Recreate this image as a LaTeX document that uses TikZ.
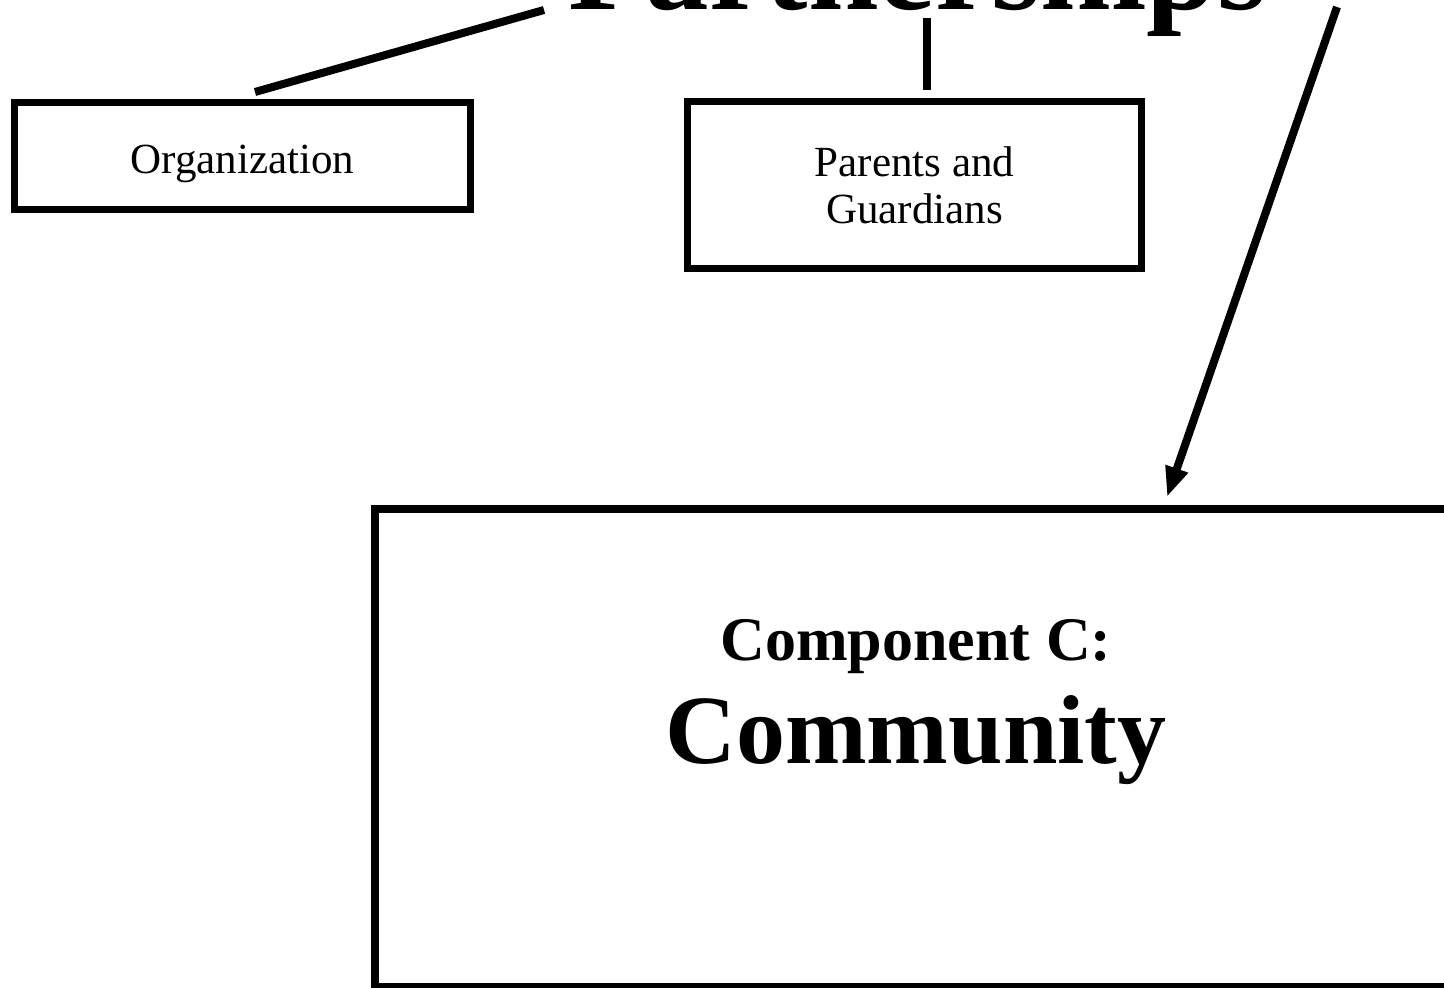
\documentclass[tikz,border=0pt]{standalone}
\usepackage{fontspec}
\setmainfont{Liberation Serif}
\usetikzlibrary{arrows.meta}

\tikzset{
  box/.style={draw=black, line width=3.75pt, rectangle, inner sep=0pt, align=center},
  smalltext/.style={font=\fontsize{21.5}{23.5}\selectfont},
  conn/.style={draw=black, line width=4pt},
  tip/.style={-{Triangle[length=15pt,width=11pt]}}
}

\begin{document}
\begin{tikzpicture}[x=0.5pt,y=-0.5pt]
  \useasboundingbox (0,0) rectangle (1444,988);
  \clip (0,0) rectangle (1444,988);

  % heading
  \node[anchor=base, inner sep=0pt, font=\bfseries\fontsize{63.5}{70}\selectfont]
    (title) at (917.5,10) {Partnerships};

  % partner boxes
  \node[box, smalltext, minimum width=228pt, minimum height=53.5pt,
        text height=18pt, text depth=0pt]
    (org) at (242.5,156) {Organization};
  \node[box, smalltext, minimum width=227pt, minimum height=83.5pt]
    (parents) at (914.5,185) {Parents and\\Guardians};

  % community box (runs off the right edge)
  \node[box, minimum width=552.5pt, minimum height=239pt]
    (comm) at (927.5,748) {};
  \node[anchor=base, inner sep=0pt, font=\bfseries\fontsize{31}{36}\selectfont]
    (commA) at (916,660) {Component C:};
  \node[anchor=base, inner sep=0pt, font=\bfseries\fontsize{49}{56}\selectfont]
    (commB) at (916,763) {Community};

  % connector end points
  \coordinate (o1) at (255,92);
  \coordinate (o2) at (544,10);
  \coordinate (p1) at (927,90);
  \coordinate (p2) at (927,18);
  \coordinate (c1) at (1337,7);
  \coordinate (c2) at (1167,497);

  \draw[conn] (o1) -- (o2);
  \draw[conn] (p1) -- (p2);
  \draw[conn, tip] (c1) -- (c2);
\end{tikzpicture}
\end{document}
